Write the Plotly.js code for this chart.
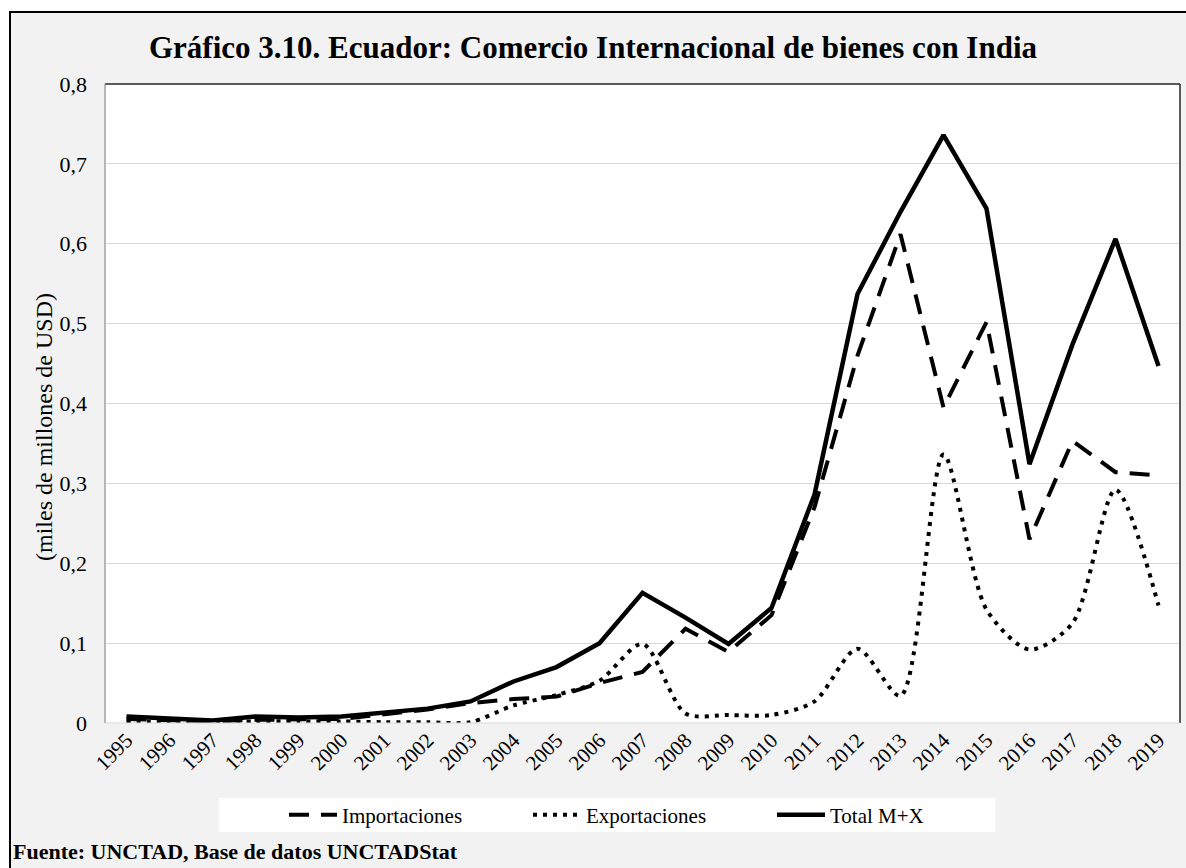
<!DOCTYPE html>
<html>
<head>
<meta charset="utf-8">
<script src="https://cdn.plot.ly/plotly-3.0.1.min.js"></script>
<style>
html, body { margin: 0; padding: 0; background: #ffffff; width: 1186px; height: 868px; overflow: hidden; }
#frame { position: absolute; left: 9px; top: 11px; width: 1200px; height: 900px; border-left: 2px solid #000; border-top: 2px solid #000; background: #f2f2f2; }
#chart { position: absolute; left: 0; top: 0; width: 1186px; height: 868px; }
</style>
</head>
<body>
<div id="frame"></div>
<div id="chart"></div>
<script>
const years = ['1995','1996','1997','1998','1999','2000','2001','2002','2003','2004','2005','2006','2007','2008','2009','2010','2011','2012','2013','2014','2015','2016','2017','2018','2019'];
const importaciones = [0.005,0.003,0.002,0.004,0.004,0.005,0.011,0.017,0.025,0.030,0.033,0.050,0.064,0.118,0.089,0.135,0.270,0.460,0.612,0.395,0.502,0.230,0.353,0.314,0.310];
const exportaciones = [0.002,0.001,0.001,0.002,0.002,0.002,0.001,0.001,0.001,0.022,0.035,0.053,0.099,0.012,0.010,0.010,0.027,0.093,0.034,0.336,0.142,0.092,0.125,0.292,0.147];
const totalMX = [0.008,0.005,0.003,0.008,0.007,0.008,0.013,0.018,0.027,0.052,0.070,0.100,0.163,0.132,0.099,0.144,0.286,0.537,0.640,0.736,0.644,0.324,0.474,0.606,0.447];
const yTickVals = [0,0.1,0.2,0.3,0.4,0.5,0.6,0.7,0.8];
const yTickText = ['0','0,1','0,2','0,3','0,4','0,5','0,6','0,7','0,8'];

const serif = 'Times New Roman, Liberation Serif, serif';

const traces = [
  { x: years, y: importaciones, name: 'Importaciones', type: 'scatter', mode: 'lines',
    line: { color: '#000000', width: 4, dash: '20px,12px' } },
  { x: years, y: exportaciones, name: 'Exportaciones', type: 'scatter', mode: 'lines',
    line: { color: '#000000', width: 4, dash: '4px,6px', shape: 'spline', smoothing: 0.8 } },
  { x: years, y: totalMX, name: 'Total M+X', type: 'scatter', mode: 'lines',
    line: { color: '#000000', width: 4.5 } }
];

const layout = {
  width: 1186, height: 868,
  paper_bgcolor: 'rgba(0,0,0,0)',
  plot_bgcolor: '#ffffff',
  margin: { l: 105, r: 6, t: 84, b: 145 },
  font: { family: serif, color: '#000000', size: 21 },
  title: { text: 'Gráfico 3.10. Ecuador: Comercio Internacional de bienes con India',
    font: { family: serif, size: 31, weight: 'bold', color: '#000' },
    x: 0.5, xanchor: 'center', y: 1 - 47/868, yanchor: 'middle', yref: 'container' },
  xaxis: { type: 'category', range: [-0.5, 24.5], tickangle: -45, showgrid: false,
    showline: false, zeroline: false, ticks: '', tickfont: { family: serif, size: 21, color: '#000' } },
  yaxis: { range: [0, 0.8], tickvals: yTickVals, ticktext: yTickText, showgrid: true,
    gridcolor: '#d9d9d9', gridwidth: 1, zeroline: false, showline: false, ticks: '',
    ticklabelstandoff: 17, tickfont: { family: serif, size: 22, color: '#000' } },
  showlegend: true,
  legend: { orientation: 'h', x: 0.1665, xanchor: 'left', y: -0.144, yanchor: 'middle',
    bgcolor: 'rgba(0,0,0,0)', font: { family: serif, size: 21, color: '#000' },
    entrywidth: 181, entrywidthmode: 'pixels', itemwidth: 48, tracegroupgap: 0 },
  shapes: [
    { type: 'rect', xref: 'paper', yref: 'paper', x0: (219-105)/1075, x1: (995-105)/1075,
      y0: (723-832)/639, y1: (723-798)/639, fillcolor: '#ffffff', line: { width: 0 }, layer: 'below' },
    { type: 'line', xref: 'paper', yref: 'paper', x0: 0, x1: 1, y0: 1, y1: 1, line: { color: '#262626', width: 1.5 } },
    { type: 'line', xref: 'paper', yref: 'paper', x0: 1, x1: 1, y0: 0, y1: 1, line: { color: '#262626', width: 1.5 } },
    { type: 'line', xref: 'paper', yref: 'paper', x0: 0, x1: 0, y0: 0, y1: 1, line: { color: '#8c8c8c', width: 1.2 } },
    { type: 'line', xref: 'paper', yref: 'paper', x0: 0, x1: 1, y0: 0, y1: 0, line: { color: '#d9d9d9', width: 1.2 } }
  ],
  annotations: [
    { text: '(miles de millones de USD)', textangle: -90, xref: 'paper', yref: 'paper',
      x: (44-105)/1075, y: (723-427)/639, xanchor: 'center', yanchor: 'middle', showarrow: false,
      font: { family: serif, size: 24, color: '#000' } },
    { text: '<b>Fuente: UNCTAD, Base de datos UNCTADStat</b>', xref: 'paper', yref: 'paper',
      x: (11-105)/1075, y: (723-851)/639, xanchor: 'left', yanchor: 'middle', showarrow: false,
      font: { family: serif, size: 22, color: '#000' } }
  ]
};

Plotly.newPlot('chart', traces, layout, { displayModeBar: false, staticPlot: true });
</script>
</body>
</html>
